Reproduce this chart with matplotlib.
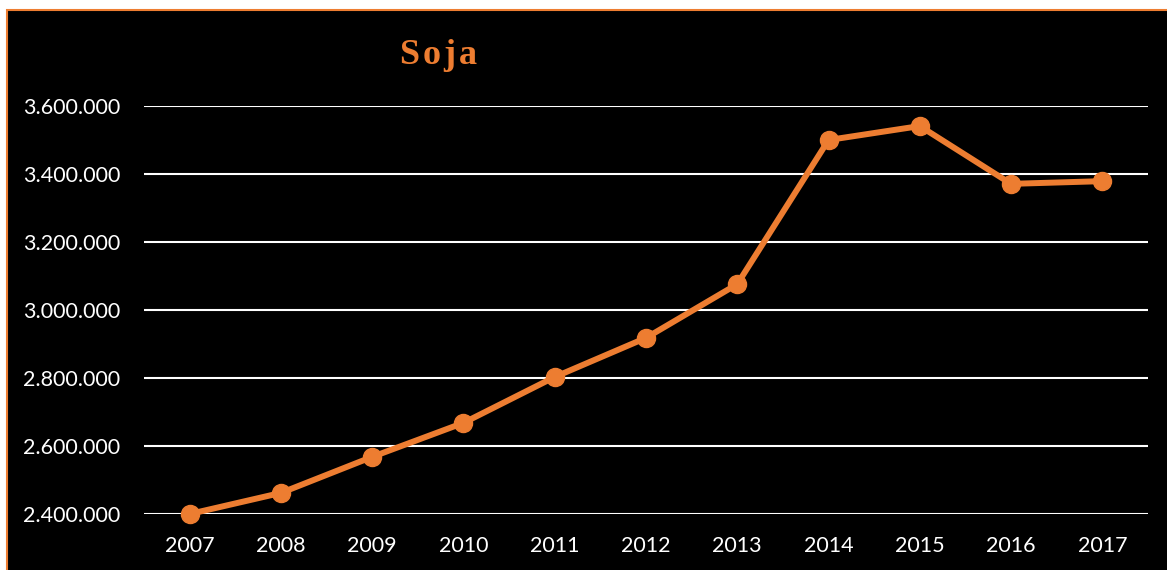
import matplotlib
matplotlib.use("Agg")
import matplotlib.pyplot as plt
from matplotlib.patches import Rectangle
from matplotlib.ticker import FuncFormatter

# soja production per year
years = ["2007", "2008", "2009", "2010", "2011", "2012", "2013", "2014", "2015", "2016", "2017"]
soja = [2400000, 2462000, 2568000, 2668000, 2803000, 2918000, 3076000, 3500000, 3541000, 3371000, 3379000]
yticks = [2400000, 2600000, 2800000, 3000000, 3200000, 3400000, 3600000]

orange = "#ED7D31"

fig = plt.figure(figsize=(11.67, 5.70), dpi=100)
fig.patch.set_facecolor("white")

# black chart area with orange frame
fig.patches.append(Rectangle((7 / 1167, -0.01), 1.02, 1 - 10 / 570 + 0.01,
                             transform=fig.transFigure, facecolor="black",
                             edgecolor=orange, linewidth=1.5, zorder=-1))

ax = fig.add_axes([144 / 1167, 1 - 514 / 570, (1148 - 144) / 1167, (514 - 106) / 570])
ax.set_facecolor("black")

x = list(range(len(years)))
ax.plot(x, soja, color=orange, linewidth=4.3, marker="o", markersize=13, zorder=3,
        solid_capstyle="round", clip_on=False)

ax.set_xlim(-0.5, len(years) - 0.5)
ax.set_ylim(2400000, 3600000)
ax.set_yticks(yticks)
ax.yaxis.set_major_formatter(FuncFormatter(lambda v, p: f"{int(v):,}".replace(",", ".")))
ax.set_xticks(x)
ax.set_xticklabels(years)

ax.grid(axis="y", color="white", linewidth=1.5)
ax.set_axisbelow(True)
for s in ax.spines.values():
    s.set_visible(False)
ax.tick_params(axis="both", length=0, colors="white", labelsize=15.5)
ax.tick_params(axis="y", pad=17)
ax.tick_params(axis="x", pad=16)
for lab in ax.get_xticklabels() + ax.get_yticklabels():
    lab.set_fontfamily("Lato")

fig.text(439 / 1167, 1 - 55 / 570, "S\u200ao\u200aj\u200aa", color=orange, fontsize=26,
         fontweight="bold", family=["Liberation Serif", "DejaVu Serif"], ha="center", va="center")

fig.savefig("out.png", dpi=100)
